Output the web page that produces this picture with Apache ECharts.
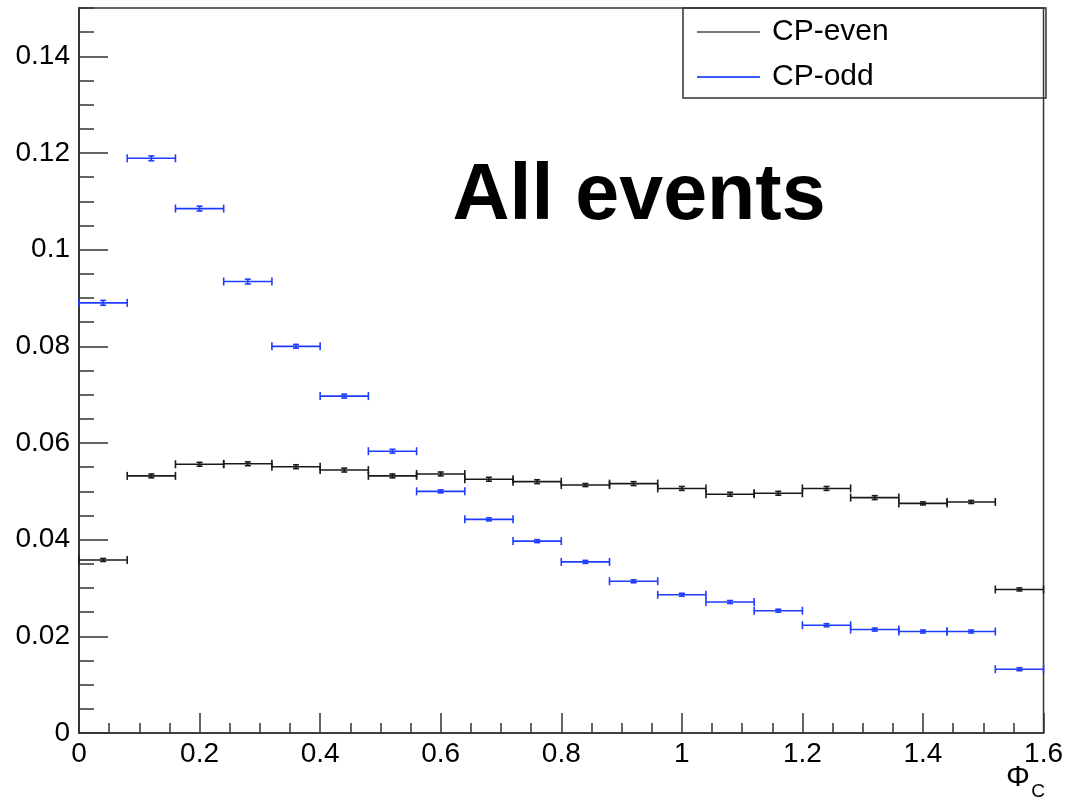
<!DOCTYPE html>
<html>
<head>
<meta charset="utf-8">
<script src="https://cdn.jsdelivr.net/npm/echarts@6/dist/echarts.min.js"></script>
<style>
html,body{margin:0;padding:0;background:#fff;}
#chart{width:1066px;height:802px;}
</style>
</head>
<body>
<div id="chart"></div>
<script>
// ---- data ----
const binCenters = [0.04, 0.12, 0.20, 0.28, 0.36, 0.44, 0.52, 0.60, 0.68, 0.76,
                    0.84, 0.92, 1.00, 1.08, 1.16, 1.24, 1.32, 1.40, 1.48, 1.56];
const binWidth = 0.08;
const cpEven    = [0.0358, 0.0532, 0.0556, 0.0557, 0.0551, 0.0544, 0.0532, 0.0536, 0.0525, 0.0520,
                   0.0513, 0.0516, 0.0506, 0.0494, 0.0496, 0.0506, 0.0487, 0.0475, 0.0478, 0.0297];
const cpEvenErr = [0.0003, 0.0004, 0.0004, 0.0004, 0.0004, 0.0004, 0.0004, 0.0004, 0.0004, 0.0004,
                   0.0003, 0.0004, 0.0004, 0.0004, 0.0004, 0.0004, 0.0004, 0.0003, 0.0003, 0.0003];
const cpOdd     = [0.0890, 0.1189, 0.1085, 0.0934, 0.0800, 0.0697, 0.0583, 0.0500, 0.0442, 0.0397,
                   0.0354, 0.0314, 0.0286, 0.0271, 0.0253, 0.0223, 0.0214, 0.0210, 0.0210, 0.0132];
const cpOddErr  = [0.0005, 0.0005, 0.0005, 0.0005, 0.0004, 0.0004, 0.0004, 0.0003, 0.0003, 0.0003,
                   0.0003, 0.0003, 0.0002, 0.0002, 0.0002, 0.0002, 0.0002, 0.0002, 0.0002, 0.0002];
const seriesNames = ['CP-even', 'CP-odd'];
const xTicks = { min: 0, max: 1.6, interval: 0.2 };
const yTicks = { min: 0, max: 0.15, interval: 0.02, minorInterval: 0.005 };

const FONT = 'Liberation Sans, Arial, Helvetica, sans-serif';
const AXIS_COLOR = '#333';

function histRenderer(color) {
  return function (params, api) {
    const x = api.value(0), y = api.value(1), e = api.value(2);
    const pL = api.coord([x - binWidth / 2, y]);
    const pR = api.coord([x + binWidth / 2, y]);
    const pT = api.coord([x, y + e]);
    const pB = api.coord([x, y - e]);
    const st = { stroke: color, lineWidth: 1.6, fill: null };
    const cap = 4, ecap = 3;
    const topY = Math.min(pT[1], pL[1] - 1.5), botY = Math.max(pB[1], pL[1] + 1.5);
    return {
      type: 'group',
      children: [
        { type: 'line', shape: { x1: pL[0], y1: pL[1], x2: pR[0], y2: pR[1] }, style: st },
        { type: 'line', shape: { x1: pL[0], y1: pL[1] - cap, x2: pL[0], y2: pL[1] + cap }, style: st },
        { type: 'line', shape: { x1: pR[0], y1: pR[1] - cap, x2: pR[0], y2: pR[1] + cap }, style: st },
        { type: 'line', shape: { x1: pT[0], y1: topY, x2: pB[0], y2: botY }, style: st },
        { type: 'line', shape: { x1: pT[0] - ecap, y1: topY, x2: pT[0] + ecap, y2: topY }, style: st },
        { type: 'line', shape: { x1: pB[0] - ecap, y1: botY, x2: pB[0] + ecap, y2: botY }, style: st }
      ]
    };
  };
}

const evenData = binCenters.map((c, i) => [c, cpEven[i], cpEvenErr[i]]);
const oddData  = binCenters.map((c, i) => [c, cpOdd[i], cpOddErr[i]]);

const chart = echarts.init(document.getElementById('chart'), null, { renderer: 'canvas' });
chart.setOption({
  backgroundColor: '#fff',
  animation: false,
  textStyle: { fontFamily: FONT },
  grid: { left: 79, right: 20, top: 8, bottom: 69, show: true, borderColor: AXIS_COLOR, borderWidth: 1.5 },
  legend: {
    orient: 'vertical',
    left: 692,
    top: 9,
    itemWidth: 63,
    itemHeight: 2,
    itemGap: 9,
    icon: 'rect',
    textStyle: { fontSize: 30, color: '#000', lineHeight: 36, fontFamily: FONT, padding: [0, 0, 0, 7] },
    data: [
      { name: seriesNames[0], itemStyle: { color: '#7a7a7a' } },
      { name: seriesNames[1], itemStyle: { color: '#3a5cff' } }
    ]
  },
  xAxis: {
    type: 'value',
    min: xTicks.min, max: xTicks.max, interval: xTicks.interval,
    axisLine: { show: true, lineStyle: { color: AXIS_COLOR, width: 1.5 } },
    axisTick: { show: true, inside: true, length: 20, lineStyle: { color: AXIS_COLOR, width: 1.5 } },
    minorTick: { show: true, splitNumber: 4, length: 10, lineStyle: { color: AXIS_COLOR, width: 1.5 } },
    splitLine: { show: false },
    axisLabel: { fontSize: 28, color: '#000', margin: 7, fontFamily: FONT }
  },
  yAxis: [
    {
      type: 'value',
      min: yTicks.min, max: yTicks.max, interval: yTicks.minorInterval,
      axisLine: { show: true, lineStyle: { color: AXIS_COLOR, width: 1.5 } },
      axisTick: { show: true, inside: true, length: 15, lineStyle: { color: AXIS_COLOR, width: 1.5 } },
      splitLine: { show: false },
      axisLabel: { show: false }
    },
    {
      type: 'value',
      position: 'left',
      min: yTicks.min, max: yTicks.max, interval: yTicks.interval,
      axisLine: { show: true, lineStyle: { color: AXIS_COLOR, width: 1.5 } },
      axisTick: { show: true, inside: true, length: 29, lineStyle: { color: AXIS_COLOR, width: 1.5 } },
      splitLine: { show: false },
      axisLabel: { fontSize: 28, color: '#000', margin: 9, showMaxLabel: false, fontFamily: FONT }
    }
  ],
  graphic: [
    { type: 'rect', shape: { x: 683, y: 8, width: 363, height: 90 },
      style: { fill: null, stroke: AXIS_COLOR, lineWidth: 1.5 }, z: 10 },
    { type: 'text', style: { text: 'All events', x: 639, y: 197, textAlign: 'center', textVerticalAlign: 'middle',
      font: 'bold 79px ' + FONT, fill: '#000' }, z: 10 },
    { type: 'text', style: { text: 'Φ', x: 1018, y: 778, textAlign: 'center', textVerticalAlign: 'middle',
      font: '30px ' + FONT, fill: '#000' }, z: 10 },
    { type: 'text', style: { text: 'C', x: 1038, y: 792, textAlign: 'center', textVerticalAlign: 'middle',
      font: '19px ' + FONT, fill: '#000' }, z: 10 }
  ],
  series: [
    { name: seriesNames[0], type: 'custom', xAxisIndex: 0, yAxisIndex: 1, data: evenData,
      itemStyle: { color: '#7a7a7a' }, renderItem: histRenderer('#1a1a1a'), z: 3 },
    { name: seriesNames[1], type: 'custom', xAxisIndex: 0, yAxisIndex: 1, data: oddData,
      itemStyle: { color: '#3a5cff' }, renderItem: histRenderer('#1f3cff'), z: 4 }
  ]
});
</script>
</body>
</html>
